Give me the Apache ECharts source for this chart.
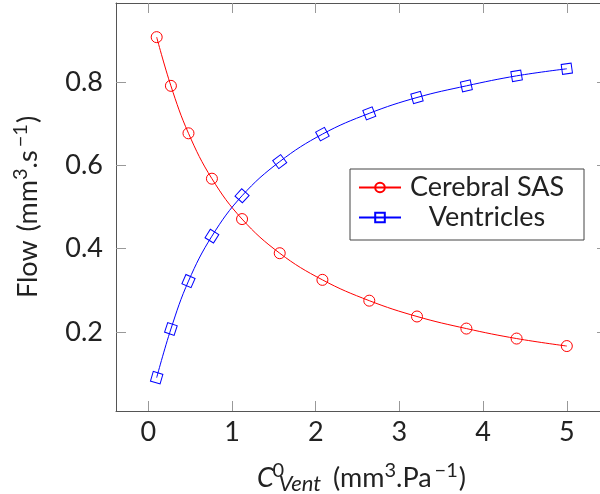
<!DOCTYPE html>
<html>
<head>
<meta charset="utf-8">
<script src="https://cdn.jsdelivr.net/npm/echarts@6/dist/echarts.min.js"></script>
<style>
  html, body { margin: 0; padding: 0; background: #fff; }
  #main { width: 600px; height: 494px; }
</style>
</head>
<body>
<div id="main"></div>
<script>
// values
var ventCompliance = [0.10, 0.27, 0.48, 0.76, 1.12, 1.57, 2.08, 2.64, 3.21, 3.80, 4.40, 5.00];
var sasFlow = [0.908, 0.791, 0.677, 0.568, 0.471, 0.389, 0.325, 0.275, 0.237, 0.208, 0.184, 0.166];
var ventFlow = [0.090, 0.207, 0.322, 0.430, 0.527, 0.609, 0.675, 0.725, 0.763, 0.791, 0.815, 0.832];
var xTicks = [0, 1, 2, 3, 4, 5];
var yTicks = [0.2, 0.4, 0.6, 0.8];

var FONT = 'Lato';
var TXT = '#222';
var xMin = -0.386, xMax = 5.48;
var yMin = 0.010, yMax = 0.990;
var grid = { left: 116, right: -7, top: 3, bottom: 83, outerBoundsMode: 'none' };
var gridW = 600 - grid.left - grid.right;
var gridH = 494 - grid.top - grid.bottom;

function pairs(xs, ys) {
  return xs.map(function (x, i) { return [x, ys[i]]; });
}

// rotate square marks along the curve (as in the original)
function tangentAngle(ys) {
  return function (val, params) {
    var i = params.dataIndex;
    var a = Math.max(0, i - 1), b = Math.min(ys.length - 1, i + 1);
    var dx = (ventCompliance[b] - ventCompliance[a]) * gridW / (xMax - xMin);
    var dy = (ys[b] - ys[a]) * gridH / (yMax - yMin);
    return Math.atan2(dy, dx) * 180 / Math.PI;
  };
}

var myChart = echarts.init(document.getElementById('main'));

var base = { fontFamily: FONT, fontSize: 27, color: TXT };
var nameRich = {
  n: { fontFamily: FONT, fontSize: 27, color: TXT, lineHeight: 34 },
  gap: { fontFamily: FONT, fontSize: 27, color: TXT, lineHeight: 34, width: 12 },
  gapy: { fontFamily: FONT, fontSize: 27, color: TXT, lineHeight: 34, width: 9 },
  i: { fontFamily: FONT, fontSize: 27, color: TXT, fontStyle: 'italic', lineHeight: 34 },
  sup: { fontFamily: FONT, fontSize: 20, color: TXT, lineHeight: 20, verticalAlign: 'top' },
  supm: { fontFamily: FONT, fontSize: 20, color: TXT, lineHeight: 20, verticalAlign: 'top', padding: [0, 1, 0, 3] },
  sup0: { fontFamily: FONT, fontSize: 20, color: TXT, lineHeight: 20, verticalAlign: 'top', width: 1, padding: [0, 0, 0, 4] },
  sub: { fontFamily: FONT, fontSize: 22, color: TXT, fontStyle: 'italic', lineHeight: 20, verticalAlign: 'bottom' }
};

var frameLine = { show: true, onZero: false, lineStyle: { color: '#555', width: 1 } };
var tick = { show: true, inside: true, length: 10, lineStyle: { color: '#999', width: 1 } };

var option = {
  backgroundColor: '#fff',
  animation: false,
  grid: grid,
  legend: {
    left: 350,
    top: 169,
    orient: 'vertical',
    itemWidth: 42,
    itemHeight: 12,
    itemGap: 3,
    padding: [5, 16, 9, 8],
    borderColor: '#444',
    borderWidth: 1,
    formatter: function (name) { return '{c|' + name + '}'; },
    textStyle: {
      rich: { c: { width: 162, align: 'center', fontFamily: FONT, fontSize: 27, color: TXT, lineHeight: 30 } }
    },
    data: ['Cerebral SAS', 'Ventricles']
  },
  xAxis: [
    {
      type: 'value',
      min: xMin,
      max: xMax,
      position: 'bottom',
      axisLine: frameLine,
      axisTick: Object.assign({ customValues: xTicks }, tick),
      axisLabel: Object.assign({ customValues: xTicks, margin: 8 }, base),
      splitLine: { show: false },
      name: '{i|C}{sup0|0}{sub|Vent}{gap| }{n|(mm}{sup|3}{n|.Pa}{supm|−1}{n|)}',
      nameLocation: 'middle',
      nameGap: 50,
      nameTextStyle: { rich: nameRich }
    },
    {
      type: 'value',
      min: xMin,
      max: xMax,
      position: 'top',
      axisLine: frameLine,
      axisTick: Object.assign({ customValues: xTicks }, tick),
      axisLabel: { show: false },
      splitLine: { show: false }
    }
  ],
  yAxis: [
    {
      type: 'value',
      min: yMin,
      max: yMax,
      position: 'left',
      axisLine: frameLine,
      axisTick: Object.assign({ customValues: yTicks }, tick),
      axisLabel: Object.assign({ customValues: yTicks, margin: 13, formatter: function (v) { return v.toFixed(1); } }, base),
      splitLine: { show: false },
      name: '{n|Flow}{gapy| }{n|(mm}{sup|3}{n|.s}{supm|−1}{n|)}',
      nameLocation: 'middle',
      nameRotate: 90,
      nameGap: 71,
      nameTextStyle: { rich: nameRich }
    },
    {
      type: 'value',
      min: yMin,
      max: yMax,
      position: 'right',
      axisLine: frameLine,
      axisTick: Object.assign({ customValues: yTicks }, tick),
      axisLabel: { show: false },
      splitLine: { show: false }
    }
  ],
  series: [
    {
      name: 'Cerebral SAS',
      type: 'line',
      smooth: 0.4,
      data: pairs(ventCompliance, sasFlow),
      symbol: 'circle',
      symbolSize: 11,
      color: '#ff0000',
      lineStyle: { color: '#ff0000', width: 1 },
      itemStyle: { color: 'rgba(255,255,255,0)', borderColor: '#ff0000', borderWidth: 1 }
    },
    {
      name: 'Ventricles',
      type: 'line',
      smooth: 0.4,
      data: pairs(ventCompliance, ventFlow),
      symbol: 'rect',
      symbolSize: 10,
      symbolRotate: tangentAngle(ventFlow),
      color: '#0000ff',
      lineStyle: { color: '#0000ff', width: 1 },
      itemStyle: { color: 'rgba(255,255,255,0)', borderColor: '#0000ff', borderWidth: 1 }
    }
  ]
};

myChart.setOption(option);
</script>
</body>
</html>
